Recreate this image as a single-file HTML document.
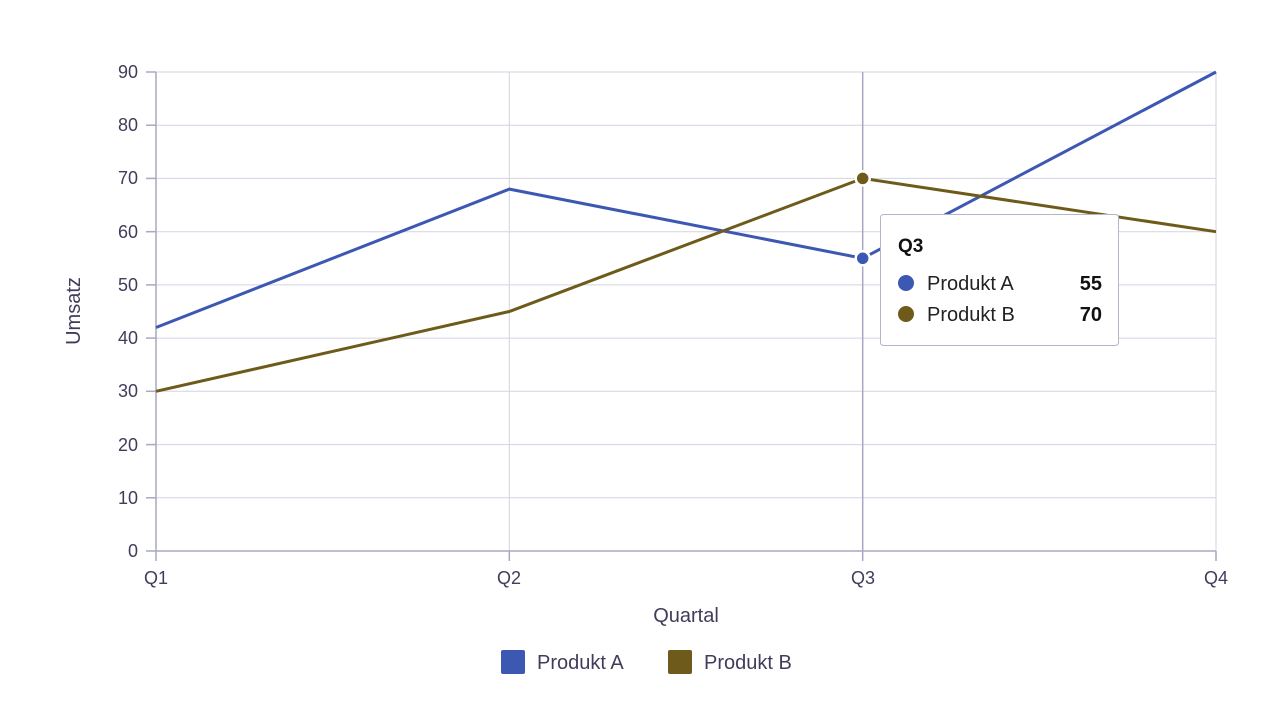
<!DOCTYPE html>
<html><head><meta charset="utf-8"><style>
body{margin:0;background:#fff;}
svg text{font-family:"Liberation Sans",sans-serif;fill:#3f3d5a;}
</style></head><body>
<svg width="1282" height="712" xmlns="http://www.w3.org/2000/svg">
<g stroke="#d4d3e2" stroke-width="1">
<line x1="156" y1="72" x2="1216" y2="72"/>
<line x1="156" y1="125.2" x2="1216" y2="125.2"/>
<line x1="156" y1="178.4" x2="1216" y2="178.4"/>
<line x1="156" y1="231.7" x2="1216" y2="231.7"/>
<line x1="156" y1="284.9" x2="1216" y2="284.9"/>
<line x1="156" y1="338.1" x2="1216" y2="338.1"/>
<line x1="156" y1="391.3" x2="1216" y2="391.3"/>
<line x1="156" y1="444.6" x2="1216" y2="444.6"/>
<line x1="156" y1="497.8" x2="1216" y2="497.8"/>
<line x1="509.3" y1="72" x2="509.3" y2="551"/>
<line x1="1216" y1="72" x2="1216" y2="551"/>
</g>
<line x1="862.7" y1="72" x2="862.7" y2="551" stroke="#a9a8c2" stroke-width="1.5"/>
<g stroke="#a9a8c2" stroke-width="1.5">
<line x1="156" y1="72" x2="156" y2="551"/>
<line x1="156" y1="551" x2="1216" y2="551"/>
<line x1="146" y1="72" x2="156" y2="72"/><line x1="146" y1="125.2" x2="156" y2="125.2"/><line x1="146" y1="178.4" x2="156" y2="178.4"/><line x1="146" y1="231.7" x2="156" y2="231.7"/><line x1="146" y1="284.9" x2="156" y2="284.9"/><line x1="146" y1="338.1" x2="156" y2="338.1"/><line x1="146" y1="391.3" x2="156" y2="391.3"/><line x1="146" y1="444.6" x2="156" y2="444.6"/><line x1="146" y1="497.8" x2="156" y2="497.8"/><line x1="146" y1="551" x2="156" y2="551"/>
<line x1="156" y1="551" x2="156" y2="561"/><line x1="509.3" y1="551" x2="509.3" y2="561"/><line x1="862.7" y1="551" x2="862.7" y2="561"/><line x1="1216" y1="551" x2="1216" y2="561"/>
</g>
<g font-size="18" text-anchor="end">
<text x="138" y="78">90</text><text x="138" y="131">80</text><text x="138" y="184">70</text><text x="138" y="238">60</text><text x="138" y="291">50</text><text x="138" y="344">40</text><text x="138" y="397">30</text><text x="138" y="451">20</text><text x="138" y="504">10</text><text x="138" y="557">0</text>
</g>
<g font-size="18" text-anchor="middle">
<text x="156" y="584">Q1</text><text x="509" y="584">Q2</text><text x="863" y="584">Q3</text><text x="1216" y="584">Q4</text>
<text x="686" y="622" font-size="20">Quartal</text>
</g>
<text transform="translate(80 311) rotate(-90)" font-size="20" text-anchor="middle">Umsatz</text>
<polyline points="156,327.5 509.3,189.1 862.7,258.3 1216,72" fill="none" stroke="#3d58b3" stroke-width="3"/>
<polyline points="156,391.3 509.3,311.5 862.7,178.4 1216,231.7" fill="none" stroke="#6e5a1a" stroke-width="3"/>
<circle cx="862.7" cy="258.3" r="7" fill="#3d58b3" stroke="#fff" stroke-width="2.5"/>
<circle cx="862.7" cy="178.4" r="7" fill="#6e5a1a" stroke="#fff" stroke-width="2.5"/>
<rect x="880.5" y="214.5" width="238" height="131" rx="3" fill="#fff" stroke="#b5b4c8"/>
<text x="898" y="252" font-size="19" font-weight="bold" style="fill:#111">Q3</text>
<circle cx="906" cy="283" r="8" fill="#3d58b3"/>
<circle cx="906" cy="314" r="8" fill="#6e5a1a"/>
<text x="927" y="290" font-size="20" style="fill:#222">Produkt A</text>
<text x="927" y="321" font-size="20" style="fill:#222">Produkt B</text>
<text x="1102" y="290" font-size="20" font-weight="bold" text-anchor="end" style="fill:#111">55</text>
<text x="1102" y="321" font-size="20" font-weight="bold" text-anchor="end" style="fill:#111">70</text>
<rect x="501" y="650" width="24" height="24" rx="2" fill="#3d58b3"/>
<text x="537" y="669" font-size="20">Produkt A</text>
<rect x="668" y="650" width="24" height="24" rx="2" fill="#6e5a1a"/>
<text x="704" y="669" font-size="20">Produkt B</text>
</svg>
</body></html>
